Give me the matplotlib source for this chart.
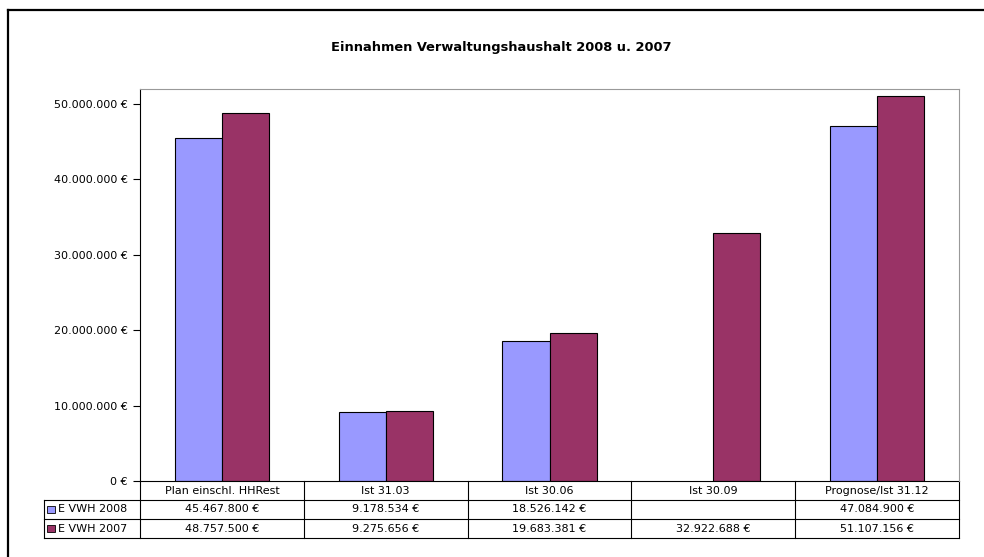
import matplotlib
matplotlib.use('Agg')
import matplotlib.pyplot as plt
from matplotlib.ticker import FuncFormatter
from matplotlib.lines import Line2D
from matplotlib.patches import Rectangle
import numpy as np

plt.rcParams['font.family'] = ['DejaVu Sans']

categories = ['Plan einschl. HHRest', 'Ist 31.03', 'Ist 30.06', 'Ist 30.09', 'Prognose/Ist 31.12']
series_names = ['E VWH 2008', 'E VWH 2007']
vwh_2008 = [45467800, 9178534, 18526142, np.nan, 47084900]
vwh_2007 = [48757500, 9275656, 19683381, 32922688, 51107156]
colors = ['#9999FF', '#993366']
title = 'Einnahmen Verwaltungshaushalt 2008 u. 2007'


def euro(v, pos=None):
    return '{:,.0f} €'.format(v).replace(',', '.')


W, H = 984, 557
fig = plt.figure(figsize=(W / 100, H / 100), dpi=100)
ax = fig.add_axes([140 / W, (H - 481) / H, (959 - 140) / W, (481 - 89) / H])

x = np.arange(len(categories))
bw = 0.287
for i, (vals, c) in enumerate(zip([vwh_2008, vwh_2007], colors)):
    ax.bar(x + (i - 0.5) * bw, vals, bw, color=c, edgecolor='black', linewidth=0.8, zorder=2)

ax.set_xlim(-0.5, len(categories) - 0.5)
ax.set_ylim(0, 52000000)
ax.set_yticks(np.arange(0, 50000001, 10000000))
ax.yaxis.set_major_formatter(FuncFormatter(euro))
ax.tick_params(axis='y', direction='out', length=5, width=0.8, labelsize=8, pad=4)
ax.set_xticks([])
for s in ['top', 'right']:
    ax.spines[s].set_color('#999999')
ax.spines['left'].set_color('black')
ax.spines['bottom'].set_visible(False)

fig.text(501 / W, (H - 48) / H, title, ha='center', va='center',
         fontsize=9.4, fontweight='bold')

# data table below the axis
tr = ax.get_xaxis_transform()
ph = 481 - 89
row_h = 19 / ph
left_lbl = -0.5 - 96 / (819 / 5)
kw = dict(transform=tr, clip_on=False, color='black', linewidth=0.8)
ax.add_line(Line2D([-0.5, 4.5], [0, 0], **kw))
for r in range(1, 4):
    ax.add_line(Line2D([left_lbl, 4.5], [-r * row_h] * 2, **kw))
for b in np.arange(-0.5, 4.6, 1):
    ax.add_line(Line2D([b, b], [0, -3 * row_h], **kw))
ax.add_line(Line2D([left_lbl, left_lbl], [-row_h, -3 * row_h], **kw))

for i, cat in enumerate(categories):
    ax.text(i, -0.5 * row_h, cat, transform=tr, ha='center', va='center', fontsize=8)
for r, (name, vals, c) in enumerate(zip(series_names, [vwh_2008, vwh_2007], colors)):
    yc = -(r + 1.5) * row_h
    ax.add_patch(Rectangle((left_lbl + 0.02, yc - 3.5 / ph), 0.048, 7 / ph,
                           transform=tr, clip_on=False, facecolor=c,
                           edgecolor='black', linewidth=0.6))
    ax.text(left_lbl + 0.085, yc, name, transform=tr, ha='left', va='center', fontsize=8)
    for i, v in enumerate(vals):
        if not np.isnan(v):
            ax.text(i, yc, euro(v), transform=tr, ha='center', va='center', fontsize=8)

# outer chart border (left and top visible)
fig.add_artist(Line2D([8 / W, 8 / W], [0, 1 - 10 / H], color='black', linewidth=1.6))
fig.add_artist(Line2D([8 / W, 1], [1 - 10 / H, 1 - 10 / H], color='black', linewidth=1.6))

fig.savefig('out.png', dpi=100)
